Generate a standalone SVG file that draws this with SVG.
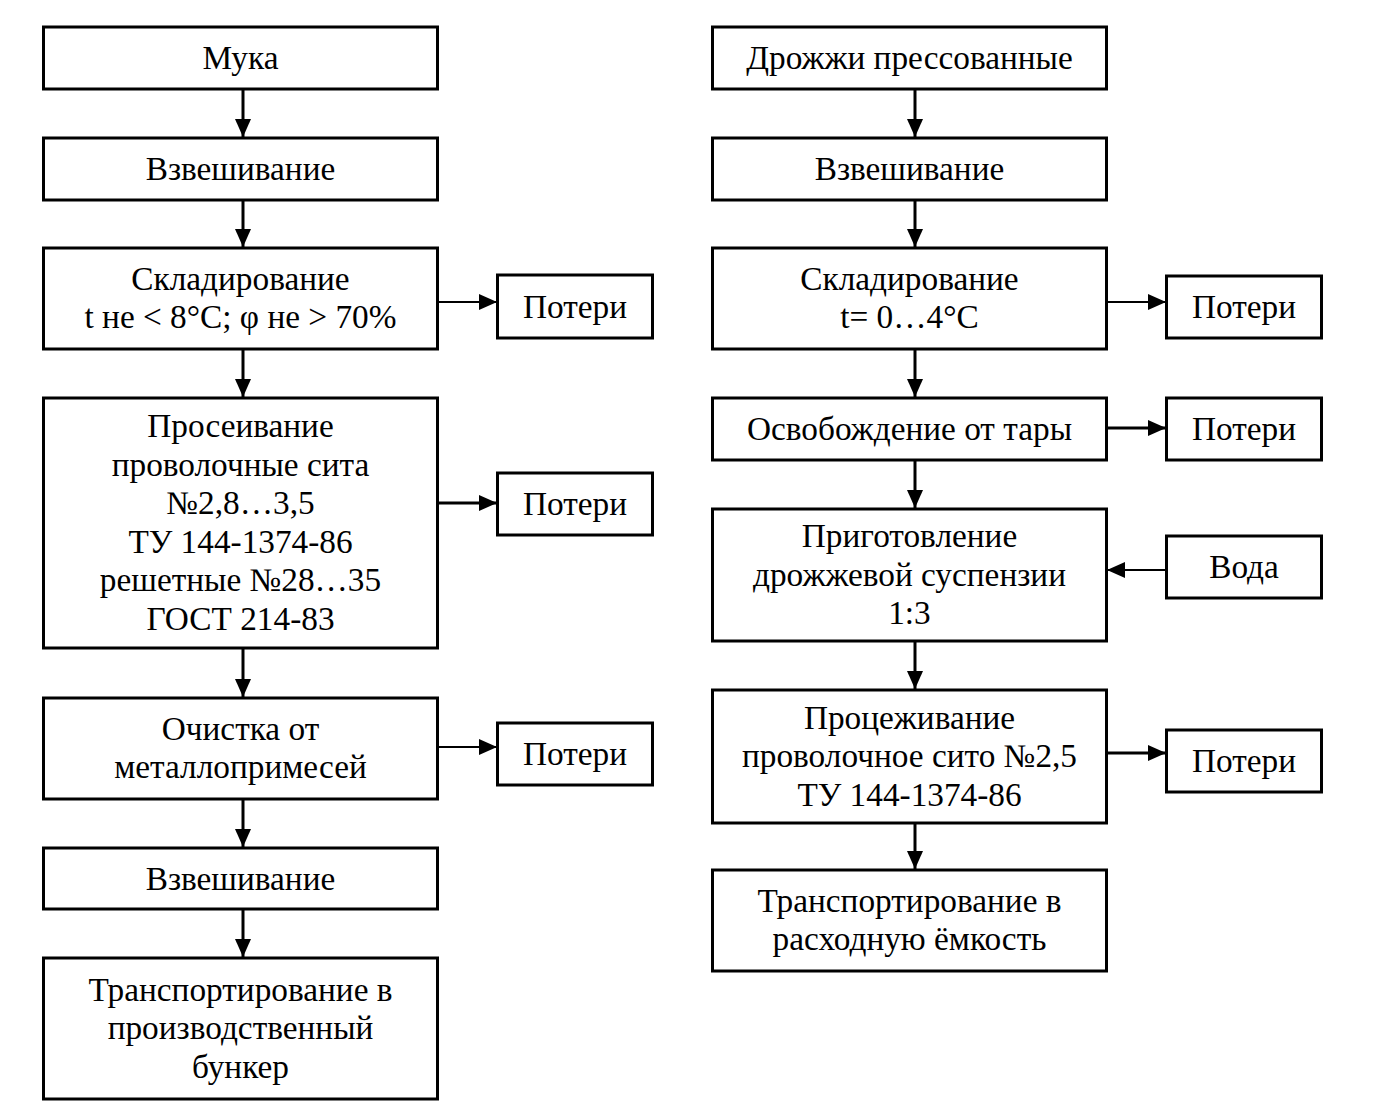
<svg xmlns="http://www.w3.org/2000/svg" width="1375" height="1107" viewBox="0 0 1375 1107">
<style>
.box{fill:#fff;stroke:#000;stroke-width:3}
.t{font-family:"Liberation Serif","Times New Roman",serif;font-size:33.3px;fill:#000;text-anchor:middle}
.c{stroke:#000;stroke-width:3;fill:none}
.thin{stroke-width:2}
</style>
<defs>
<marker id="ah" markerUnits="userSpaceOnUse" markerWidth="18" markerHeight="16" refX="18" refY="8" orient="auto">
<path d="M0,0 L18,8 L0,16 z" fill="#000"/>
</marker>
</defs>
<rect width="1375" height="1107" fill="#fff"/>
<g id="connectors">
<path class="c" d="M243,89 V137" marker-end="url(#ah)"/>
<path class="c" d="M243,200 V247" marker-end="url(#ah)"/>
<path class="c" d="M243,349 V397" marker-end="url(#ah)"/>
<path class="c" d="M243,649 V697" marker-end="url(#ah)"/>
<path class="c" d="M243,799 V847" marker-end="url(#ah)"/>
<path class="c" d="M243,909 V957" marker-end="url(#ah)"/>
<path class="c" d="M915,89 V137" marker-end="url(#ah)"/>
<path class="c" d="M915,200 V247" marker-end="url(#ah)"/>
<path class="c" d="M915,349 V397" marker-end="url(#ah)"/>
<path class="c" d="M915,460 V508" marker-end="url(#ah)"/>
<path class="c" d="M915,641 V689" marker-end="url(#ah)"/>
<path class="c" d="M915,823 V869" marker-end="url(#ah)"/>
<path class="c thin" d="M438,302 H497" marker-end="url(#ah)"/>
<path class="c" d="M438,503 H497" marker-end="url(#ah)"/>
<path class="c thin" d="M438,747 H497" marker-end="url(#ah)"/>
<path class="c thin" d="M1107,302 H1166" marker-end="url(#ah)"/>
<path class="c" d="M1107,428 H1166" marker-end="url(#ah)"/>
<path class="c thin" d="M1166,570 H1107" marker-end="url(#ah)"/>
<path class="c" d="M1107,753 H1166" marker-end="url(#ah)"/>
</g>
<g id="muka"><rect class="box" x="43.5" y="27" width="394" height="62"/><text class="t" x="240.5" y="69">Мука</text></g>
<g id="vzv1"><rect class="box" x="43.5" y="138" width="394" height="62"/><text class="t" x="240.5" y="180">Взвешивание</text></g>
<g id="sklad1"><rect class="box" x="43.5" y="248" width="394" height="101"/><text class="t" x="240.5" y="289.5">Складирование</text><text class="t" x="240.5" y="328">t не &lt; 8°C; φ не &gt; 70%</text></g>
<g id="proseiv"><rect class="box" x="43.5" y="398" width="394" height="250"/>
<text class="t" x="240.5" y="437.3">Просеивание</text>
<text class="t" x="240.5" y="475.8">проволочные сита</text>
<text class="t" x="240.5" y="514.3">№2,8…3,5</text>
<text class="t" x="240.5" y="552.8">ТУ 144-1374-86</text>
<text class="t" x="240.5" y="591.3">решетные №28…35</text>
<text class="t" x="240.5" y="629.8">ГОСТ 214-83</text></g>
<g id="ochistka"><rect class="box" x="43.5" y="698" width="394" height="101"/><text class="t" x="240.5" y="739.5">Очистка от</text><text class="t" x="240.5" y="778">металлопримесей</text></g>
<g id="vzv2"><rect class="box" x="43.5" y="848" width="394" height="61"/><text class="t" x="240.5" y="889.5">Взвешивание</text></g>
<g id="transp1"><rect class="box" x="43.5" y="958" width="394" height="141"/><text class="t" x="240.5" y="1000.5">Транспортирование в</text><text class="t" x="240.5" y="1039">производственный</text><text class="t" x="240.5" y="1077.5">бункер</text></g>
<g id="poteri1"><rect class="box" x="497.5" y="275" width="155" height="63"/><text class="t" x="575" y="317.5">Потери</text></g>
<g id="poteri2"><rect class="box" x="497.5" y="473" width="155" height="62"/><text class="t" x="575" y="514.5">Потери</text></g>
<g id="poteri3"><rect class="box" x="497.5" y="723" width="155" height="62"/><text class="t" x="575" y="764.5">Потери</text></g>
<g id="drozhzhi"><rect class="box" x="712.5" y="27" width="394" height="62"/><text class="t" x="909.5" y="69">Дрожжи прессованные</text></g>
<g id="vzv3"><rect class="box" x="712.5" y="138" width="394" height="62"/><text class="t" x="909.5" y="180">Взвешивание</text></g>
<g id="sklad2"><rect class="box" x="712.5" y="248" width="394" height="101"/><text class="t" x="909.5" y="289.5">Складирование</text><text class="t" x="909.5" y="328">t= 0…4°C</text></g>
<g id="osvob"><rect class="box" x="712.5" y="398" width="394" height="62"/><text class="t" x="909.5" y="440">Освобождение от тары</text></g>
<g id="prigot"><rect class="box" x="712.5" y="509" width="394" height="132"/><text class="t" x="909.5" y="547">Приготовление</text><text class="t" x="909.5" y="585.5">дрожжевой суспензии</text><text class="t" x="909.5" y="624">1:3</text></g>
<g id="procezh"><rect class="box" x="712.5" y="690" width="394" height="133"/><text class="t" x="909.5" y="728.5">Процеживание</text><text class="t" x="909.5" y="767">проволочное сито №2,5</text><text class="t" x="909.5" y="805.5">ТУ 144-1374-86</text></g>
<g id="transp2"><rect class="box" x="712.5" y="870" width="394" height="101"/><text class="t" x="909.5" y="911.5">Транспортирование в</text><text class="t" x="909.5" y="950">расходную ёмкость</text></g>
<g id="poteri4"><rect class="box" x="1166.5" y="276" width="155" height="62"/><text class="t" x="1244" y="318">Потери</text></g>
<g id="poteri5"><rect class="box" x="1166.5" y="398" width="155" height="62"/><text class="t" x="1244" y="440">Потери</text></g>
<g id="voda"><rect class="box" x="1166.5" y="536" width="155" height="62"/><text class="t" x="1244" y="578">Вода</text></g>
<g id="poteri6"><rect class="box" x="1166.5" y="730" width="155" height="62"/><text class="t" x="1244" y="772">Потери</text></g>
</svg>
